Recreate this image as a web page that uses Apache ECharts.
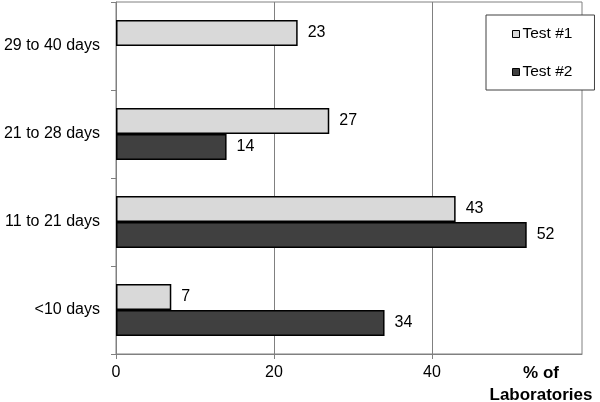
<!DOCTYPE html>
<html>
<head>
<meta charset="utf-8">
<script src="https://cdn.jsdelivr.net/npm/echarts@6/dist/echarts.min.js"></script>
<style>html,body{margin:0;padding:0;background:#fff}#c{width:600px;height:402px}</style>
</head>
<body>
<div id="c"></div>
<script>
var categories = ['29 to 40 days', '21 to 28 days', '11 to 21 days', '<10 days'];
var test1 = [23, 27, 43, 7];
var test2 = [null, 14, 52, 34];
var seriesNames = ['Test #1', 'Test #2'];
var xTicks = [0, 20, 40];

var font = 'Liberation Sans, Arial, sans-serif';
var chart = echarts.init(document.getElementById('c'), null, {renderer: 'canvas'});
var labelCfg = {show: true, position: 'right', distance: 10, color: '#000', fontSize: 16, fontFamily: font};
chart.setOption({
  animation: false,
  backgroundColor: '#fff',
  grid: {left: 116, top: 2, right: 18, bottom: 48, show: true, borderColor: '#808080', borderWidth: 1, containLabel: false, outerBoundsMode: 'none'},
  legend: {
    data: seriesNames,
    orient: 'vertical',
    left: 486, top: 15,
    padding: [11, 22, 10, 26],
    itemWidth: 7, itemHeight: 7,
    itemGap: 22,
    icon: 'rect',
    borderColor: '#404040', borderWidth: 1,
    backgroundColor: '#fff',
    textStyle: {fontSize: 15.5, fontFamily: font, color: '#000', padding: [0, 0, 0, -2]},
    itemStyle: {borderColor: '#000', borderWidth: 1}
  },
  xAxis: {
    type: 'value', min: 0, max: 59, interval: 20,
    name: '% of\nLaboratories',
    nameLocation: 'end',
    nameGap: -41,
    nameTextStyle: {fontSize: 17, fontWeight: 'bold', fontFamily: font, color: '#000', align: 'center', verticalAlign: 'top', lineHeight: 22, padding: [8, 0, 0, 0]},
    axisLine: {show: true, lineStyle: {color: '#808080', width: 1}},
    axisTick: {show: true, length: 5, customValues: xTicks, lineStyle: {color: '#808080'}},
    splitLine: {show: true, lineStyle: {color: '#808080', width: 1}},
    axisLabel: {margin: 11, fontSize: 16, fontFamily: font, color: '#000', customValues: xTicks}
  },
  yAxis: {
    type: 'category', data: categories, inverse: true,
    axisLine: {show: true, lineStyle: {color: '#808080', width: 1}},
    axisTick: {show: true, length: 5, lineStyle: {color: '#808080'}},
    axisLabel: {margin: 16, fontSize: 16, fontFamily: font, color: '#000'}
  },
  series: [
    {name: seriesNames[0], type: 'bar', data: test1, barGap: '0%', barCategoryGap: '41%',
      itemStyle: {color: '#d9d9d9', borderColor: '#000', borderWidth: 1.5}, label: labelCfg},
    {name: seriesNames[1], type: 'bar', data: test2, barGap: '0%', barCategoryGap: '41%',
      itemStyle: {color: '#404040', borderColor: '#000', borderWidth: 1.5}, label: labelCfg}
  ]
});
</script>
</body>
</html>
